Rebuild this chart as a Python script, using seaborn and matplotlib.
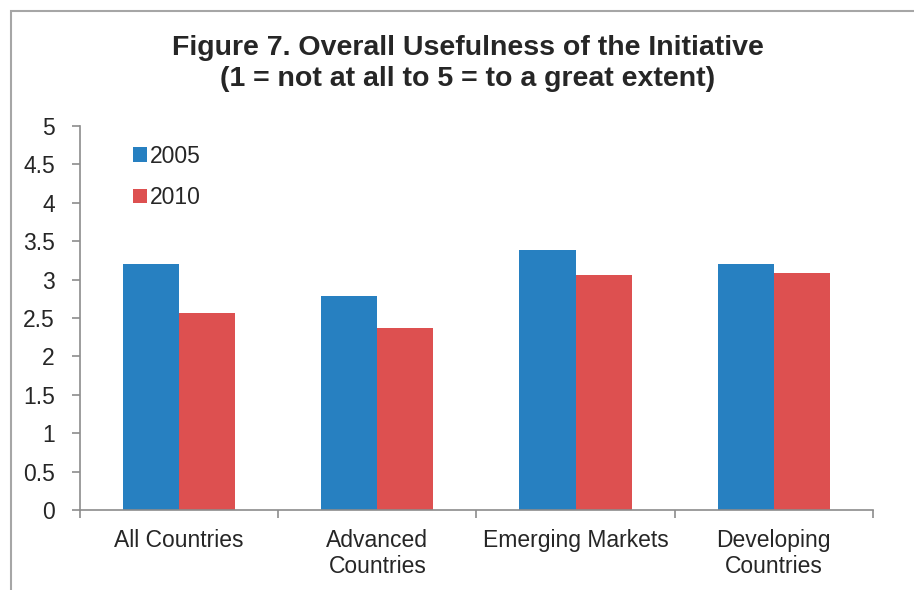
import pandas as pd
import matplotlib.pyplot as plt
import seaborn as sns
from matplotlib.patches import Rectangle
from matplotlib.ticker import MultipleLocator, FormatStrFormatter, FixedLocator

# Data
categories = ["All Countries", "Advanced\nCountries", "Emerging Markets", "Developing\nCountries"]
years = ["2005", "2010"]
values_2005 = [3.20, 2.79, 3.39, 3.20]
values_2010 = [2.56, 2.37, 3.06, 3.09]

df = pd.DataFrame({
    "Group": categories * 2,
    "Year": [years[0]] * 4 + [years[1]] * 4,
    "Score": values_2005 + values_2010,
})

sns.set_style("white")
plt.rcParams["font.family"] = ["Liberation Sans", "DejaVu Sans"]

fig = plt.figure(figsize=(9.14, 5.90), dpi=100)
ax = fig.add_axes([0.0875, 0.1356, 0.8676, 0.6508])

sns.barplot(
    data=df,
    x="Group",
    y="Score",
    hue="Year",
    palette=["#2780C1", "#DD5050"],
    width=0.566,
    saturation=1,
    linewidth=0,
    ax=ax,
)

ax.set_xlim(-0.5, 3.5)
ax.set_ylim(0, 5)
ax.yaxis.set_major_locator(MultipleLocator(0.5))
ax.yaxis.set_major_formatter(FormatStrFormatter("%g"))
ax.set_xlabel("")
ax.set_ylabel("")

for side in ["top", "right"]:
    ax.spines[side].set_visible(False)
for side in ["left", "bottom"]:
    ax.spines[side].set_color("#8C8C8C")
    ax.spines[side].set_linewidth(1.2)

ax.tick_params(axis="y", direction="out", length=6, width=1.2, color="#8C8C8C",
               labelsize=16.5, pad=12, left=True)
ax.tick_params(axis="x", which="major", length=0, labelsize=16.5, pad=14)
ax.xaxis.set_minor_locator(FixedLocator([-0.5, 0.5, 1.5, 2.5, 3.5]))
ax.tick_params(axis="x", which="minor", direction="out", length=6, width=1.2,
               color="#8C8C8C", bottom=True)
for lbl in ax.get_xticklabels():
    lbl.set_linespacing(1.15)

ax.legend(
    loc="upper left",
    bbox_to_anchor=(0.055, 0.975),
    frameon=False,
    fontsize=16.5,
    handlelength=0.6,
    handleheight=0.6,
    handletextpad=0.15,
    labelspacing=0.8,
    borderaxespad=0,
)

fig.text(0.512, 0.919, "Figure 7. Overall Usefulness of the Initiative",
         ha="center", va="center", fontsize=20.5, fontweight="bold")
fig.text(0.512, 0.866, "(1 = not at all to 5 = to a great extent)",
         ha="center", va="center", fontsize=20.5, fontweight="bold")

frame = Rectangle((11 / 914, -0.2), 1.2, 1.2 - 11 / 590, transform=fig.transFigure,
                  fill=False, edgecolor="#A6A6A6", linewidth=1.5, clip_on=False)
fig.patches.append(frame)

fig.savefig("out.png", dpi=100)
